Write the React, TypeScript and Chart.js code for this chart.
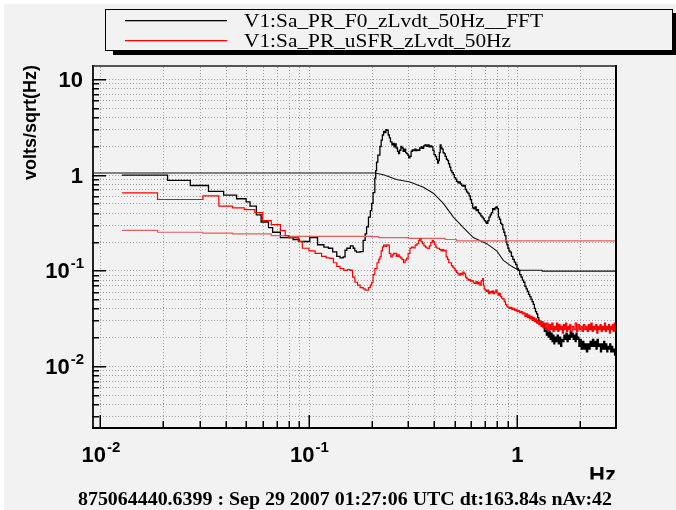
import React, { useEffect, useRef } from "react";
import { Chart, registerables } from "chart.js";
Chart.register(...registerables);

const W = 676;
const H = 510;

// Axis ranges (Hz, volts/sqrt(Hz))
const X_MIN = 0.00912;
const X_MAX = 2.967;
const Y_MIN = 0.002244;
const Y_MAX = 14.02;

// Tick positions
const xTickValues = [0.01, 0.02, 0.03, 0.04, 0.05, 0.06, 0.07, 0.08, 0.09, 0.1, 0.2, 0.3, 0.4, 0.5, 0.6, 0.7, 0.8, 0.9, 1, 2];
const xMajorTicks = [0.01, 0.1, 1];
const xMajorLabels: [string, string][] = [["10", "-2"], ["10", "-1"], ["1", ""]];
const yTickValues = [0.003, 0.004, 0.005, 0.006, 0.007, 0.008, 0.009, 0.01, 0.02, 0.03, 0.04, 0.05, 0.06, 0.07, 0.08, 0.09, 0.1, 0.2, 0.3, 0.4, 0.5, 0.6, 0.7, 0.8, 0.9, 1, 2, 3, 4, 5, 6, 7, 8, 9, 10];
const yMajorTicks = [0.01, 0.1, 1, 10];
const yMajorLabels: [string, string][] = [["10", "-2"], ["10", "-1"], ["1", ""], ["10", ""]];

const legendLabels = ["V1:Sa_PR_F0_zLvdt_50Hz__FFT", "V1:Sa_PR_uSFR_zLvdt_50Hz"];
const yTitle = "volts/sqrt(Hz)";
const xTitle = "Hz";
const footerText = "875064440.6399 : Sep 29 2007 01:27:06 UTC dt:163.84s nAv:42";

// Series: [frequency (Hz), amplitude]
const blackFft: [number, number][] = [
  [0.0127, 0.99], [0.021, 0.87], [0.027, 0.77], [0.033, 0.67], [0.039, 0.61], [0.045, 0.56], [0.050, 0.52], [0.0522, 0.47],
  [0.056, 0.38], [0.059, 0.32], [0.064, 0.28], [0.067, 0.25], [0.073, 0.22], [0.084, 0.21], [0.090, 0.20], [0.101, 0.22],
  [0.110, 0.185], [0.118, 0.175], [0.124, 0.17], [0.130, 0.156], [0.136, 0.14], [0.141, 0.135], [0.146, 0.138], [0.149, 0.162],
  [0.152, 0.17], [0.158, 0.18], [0.163, 0.17], [0.166, 0.16], [0.169, 0.155], [0.176, 0.157], [0.182, 0.206], [0.186, 0.24],
  [0.189, 0.284], [0.193, 0.36], [0.197, 0.42], [0.200, 0.5], [0.203, 0.65], [0.207, 0.92], [0.209, 1.1], [0.211, 1.35],
  [0.214, 1.6], [0.219, 1.97], [0.222, 2.3], [0.225, 2.6], [0.228, 2.84], [0.231, 2.75], [0.234, 2.96], [0.237, 2.9],
  [0.240, 2.6], [0.243, 2.43], [0.246, 2.2], [0.250, 2.05], [0.253, 2.12], [0.256, 1.95], [0.259, 2.1], [0.262, 1.9],
  [0.266, 1.75], [0.269, 1.66], [0.272, 1.8], [0.276, 1.97], [0.279, 1.9], [0.283, 1.75], [0.287, 1.85], [0.291, 1.7],
  [0.294, 1.66], [0.298, 1.6], [0.301, 1.5], [0.305, 1.55], [0.309, 1.75], [0.313, 1.82], [0.317, 1.78], [0.322, 1.85],
  [0.326, 1.78], [0.331, 1.82], [0.336, 1.8], [0.340, 1.9], [0.345, 1.95], [0.350, 1.88], [0.355, 2.0], [0.360, 2.05],
  [0.366, 1.98], [0.372, 2.05], [0.377, 1.95], [0.383, 2.0], [0.388, 1.95], [0.393, 1.8], [0.398, 1.62], [0.404, 1.55],
  [0.409, 1.45], [0.414, 1.32], [0.418, 1.4], [0.422, 1.7], [0.426, 2.05], [0.430, 1.9], [0.435, 1.85], [0.440, 1.7],
  [0.445, 1.66], [0.450, 1.55], [0.456, 1.45], [0.462, 1.4], [0.467, 1.3], [0.473, 1.2], [0.479, 1.1], [0.485, 1.05],
  [0.492, 1.0], [0.498, 0.93], [0.505, 0.9], [0.511, 0.85], [0.518, 0.82], [0.525, 0.84], [0.532, 0.8], [0.540, 0.77],
  [0.547, 0.76], [0.555, 0.77], [0.562, 0.7], [0.570, 0.66], [0.578, 0.64], [0.586, 0.6], [0.594, 0.55], [0.602, 0.5],
  [0.610, 0.45], [0.618, 0.44], [0.626, 0.46], [0.634, 0.42], [0.642, 0.43], [0.650, 0.4], [0.658, 0.39], [0.667, 0.37],
  [0.676, 0.36], [0.685, 0.345], [0.694, 0.33], [0.703, 0.32], [0.712, 0.31], [0.721, 0.33], [0.730, 0.36], [0.740, 0.38],
  [0.750, 0.4], [0.760, 0.44], [0.770, 0.43], [0.780, 0.45], [0.790, 0.46], [0.800, 0.44], [0.810, 0.36], [0.820, 0.34],
  [0.830, 0.31], [0.840, 0.3], [0.850, 0.27], [0.860, 0.25], [0.870, 0.23], [0.880, 0.2], [0.890, 0.185], [0.900, 0.17],
  [0.910, 0.16], [0.920, 0.155], [0.935, 0.14], [0.950, 0.13], [0.965, 0.122], [0.980, 0.115], [0.995, 0.105], [1.01, 0.1],
  [1.025, 0.09], [1.04, 0.085], [1.055, 0.079], [1.07, 0.075], [1.085, 0.068], [1.10, 0.064], [1.115, 0.06], [1.13, 0.056],
  [1.145, 0.053], [1.16, 0.05], [1.175, 0.047], [1.19, 0.044], [1.205, 0.04], [1.22, 0.037], [1.235, 0.035], [1.25, 0.032],
  [1.265, 0.03], [1.28, 0.029], [1.295, 0.027], [1.31, 0.026], [1.33, 0.027], [1.345, 0.023], [1.36, 0.025], [1.375, 0.021],
  [1.39, 0.024], [1.405, 0.02], [1.42, 0.023], [1.435, 0.019], [1.45, 0.022], [1.465, 0.018], [1.48, 0.021], [1.495, 0.017],
  [1.51, 0.02], [1.53, 0.018], [1.55, 0.021], [1.57, 0.017], [1.59, 0.02], [1.61, 0.016], [1.63, 0.019], [1.65, 0.018],
  [1.67, 0.021], [1.69, 0.019], [1.71, 0.022], [1.73, 0.018], [1.75, 0.021], [1.77, 0.019], [1.79, 0.023], [1.81, 0.02],
  [1.83, 0.022], [1.85, 0.019], [1.87, 0.021], [1.89, 0.018], [1.91, 0.022], [1.93, 0.019], [1.95, 0.02], [1.97, 0.016],
  [1.99, 0.019], [2.02, 0.015], [2.05, 0.018], [2.08, 0.015], [2.11, 0.017], [2.14, 0.014], [2.17, 0.017], [2.2, 0.015],
  [2.23, 0.018], [2.26, 0.016], [2.29, 0.019], [2.32, 0.016], [2.35, 0.018], [2.38, 0.015], [2.41, 0.019], [2.44, 0.016],
  [2.47, 0.017], [2.5, 0.014], [2.53, 0.017], [2.56, 0.015], [2.59, 0.018], [2.62, 0.015], [2.65, 0.017], [2.68, 0.014],
  [2.71, 0.016], [2.74, 0.015], [2.77, 0.017], [2.8, 0.014], [2.83, 0.016], [2.86, 0.014], [2.89, 0.015], [2.92, 0.013],
  [2.95, 0.015], [3.0, 0.014],
];

const redFft: [number, number][] = [
  [0.0127, 0.645], [0.0188, 0.55], [0.031, 0.6], [0.037, 0.47], [0.043, 0.45], [0.049, 0.43], [0.055, 0.4], [0.060, 0.33],
  [0.066, 0.3], [0.073, 0.26], [0.077, 0.23], [0.080, 0.22], [0.089, 0.2], [0.093, 0.17], [0.100, 0.16], [0.107, 0.15],
  [0.115, 0.14], [0.121, 0.135], [0.126, 0.133], [0.131, 0.12], [0.136, 0.11], [0.141, 0.104], [0.147, 0.1], [0.153, 0.102],
  [0.158, 0.1], [0.162, 0.085], [0.166, 0.075], [0.171, 0.07], [0.176, 0.066], [0.182, 0.064], [0.186, 0.062], [0.189, 0.062],
  [0.193, 0.066], [0.197, 0.07], [0.200, 0.075], [0.203, 0.09], [0.207, 0.104], [0.212, 0.12], [0.216, 0.13], [0.219, 0.138],
  [0.222, 0.16], [0.225, 0.175], [0.228, 0.183], [0.232, 0.178], [0.236, 0.185], [0.240, 0.183], [0.243, 0.15], [0.247, 0.138],
  [0.251, 0.145], [0.255, 0.15], [0.259, 0.15], [0.263, 0.14], [0.267, 0.145], [0.271, 0.138], [0.275, 0.135], [0.279, 0.13],
  [0.284, 0.12], [0.289, 0.128], [0.294, 0.133], [0.299, 0.15], [0.305, 0.17], [0.31, 0.175], [0.316, 0.172], [0.323, 0.183],
  [0.33, 0.19], [0.336, 0.205], [0.34, 0.215], [0.345, 0.2], [0.35, 0.19], [0.356, 0.18], [0.362, 0.175], [0.368, 0.17],
  [0.373, 0.168], [0.378, 0.18], [0.384, 0.195], [0.39, 0.206], [0.395, 0.2], [0.40, 0.185], [0.406, 0.175], [0.411, 0.17],
  [0.417, 0.17], [0.423, 0.165], [0.43, 0.16], [0.436, 0.165], [0.442, 0.16], [0.449, 0.162], [0.455, 0.138], [0.462, 0.13],
  [0.468, 0.12], [0.475, 0.12], [0.482, 0.112], [0.489, 0.108], [0.496, 0.104], [0.502, 0.1], [0.51, 0.095], [0.517, 0.092],
  [0.524, 0.089], [0.531, 0.093], [0.539, 0.09], [0.547, 0.096], [0.555, 0.092], [0.563, 0.085], [0.571, 0.082], [0.579, 0.079],
  [0.587, 0.08], [0.596, 0.077], [0.605, 0.078], [0.614, 0.074], [0.623, 0.073], [0.632, 0.076], [0.641, 0.072], [0.65, 0.075],
  [0.66, 0.07], [0.67, 0.078], [0.68, 0.082], [0.686, 0.07], [0.692, 0.064], [0.699, 0.062], [0.708, 0.06], [0.717, 0.062],
  [0.727, 0.057], [0.737, 0.06], [0.747, 0.058], [0.757, 0.061], [0.767, 0.057], [0.777, 0.059], [0.787, 0.062], [0.797, 0.058],
  [0.807, 0.055], [0.818, 0.057], [0.829, 0.053], [0.84, 0.051], [0.852, 0.05], [0.864, 0.047], [0.876, 0.044], [0.888, 0.042],
  [0.9, 0.041], [0.913, 0.04], [0.926, 0.041], [0.939, 0.039], [0.952, 0.04], [0.966, 0.038], [0.98, 0.039], [0.994, 0.037],
  [1.01, 0.038], [1.025, 0.036], [1.04, 0.037], [1.055, 0.035], [1.07, 0.036], [1.085, 0.033], [1.1, 0.035], [1.115, 0.032],
  [1.13, 0.034], [1.145, 0.031], [1.16, 0.033], [1.175, 0.03], [1.19, 0.032], [1.205, 0.029], [1.22, 0.031], [1.235, 0.028],
  [1.25, 0.03], [1.265, 0.027], [1.28, 0.029], [1.295, 0.026], [1.31, 0.029], [1.325, 0.025], [1.34, 0.028], [1.36, 0.024],
  [1.38, 0.028], [1.4, 0.023], [1.42, 0.027], [1.44, 0.024], [1.46, 0.028], [1.48, 0.023], [1.5, 0.026], [1.52, 0.024],
  [1.54, 0.028], [1.56, 0.023], [1.58, 0.027], [1.6, 0.024], [1.62, 0.026], [1.64, 0.022], [1.66, 0.027], [1.68, 0.024],
  [1.7, 0.028], [1.72, 0.023], [1.74, 0.026], [1.76, 0.024], [1.78, 0.027], [1.8, 0.023], [1.83, 0.026], [1.86, 0.024],
  [1.89, 0.028], [1.92, 0.023], [1.95, 0.027], [1.98, 0.024], [2.01, 0.026], [2.04, 0.023], [2.07, 0.027], [2.1, 0.024],
  [2.13, 0.026], [2.16, 0.023], [2.19, 0.027], [2.22, 0.024], [2.25, 0.028], [2.28, 0.023], [2.31, 0.026], [2.34, 0.024],
  [2.37, 0.027], [2.4, 0.022], [2.43, 0.026], [2.46, 0.024], [2.49, 0.027], [2.52, 0.023], [2.55, 0.026], [2.58, 0.024],
  [2.61, 0.028], [2.64, 0.023], [2.67, 0.026], [2.7, 0.024], [2.73, 0.027], [2.76, 0.022], [2.79, 0.026], [2.82, 0.024],
  [2.85, 0.027], [2.88, 0.023], [2.91, 0.028], [2.94, 0.024], [2.97, 0.026], [3.0, 0.025],
];

const blackRms: [number, number][] = [
  [0.009, 1.04], [0.207, 1.04], [0.228, 1.0], [0.263, 0.89], [0.305, 0.84], [0.354, 0.74], [0.395, 0.64], [0.441, 0.5],
  [0.493, 0.36], [0.55, 0.28], [0.614, 0.22], [0.712, 0.19], [0.795, 0.16], [0.855, 0.127], [0.938, 0.11], [1.01, 0.1],
  [1.31, 0.1], [1.315, 0.098], [3.0, 0.098],
];

const redRms: [number, number][] = [
  [0.0127, 0.262], [0.0188, 0.25], [0.031, 0.245], [0.043, 0.24], [0.066, 0.23], [0.08, 0.226], [0.2, 0.225], [0.216, 0.22],
  [0.30, 0.216], [0.449, 0.21], [0.51, 0.203], [3.0, 0.2],
];

const BG = "#f2f2f2";
const SANS = '"Liberation Sans", Arial, sans-serif';
const SERIF = '"Liberation Serif", "Times New Roman", serif';

function toXY(arr: [number, number][]) {
  return arr.map(([x, y]) => ({ x, y }));
}

function drawFitted(ctx: CanvasRenderingContext2D, text: string, x: number, y: number, width: number | null, sx: number) {
  ctx.save();
  ctx.translate(x, y);
  ctx.scale(sx, 1);
  ctx.fillText(text, 0, 0);
  ctx.restore();
}

function drawPow(ctx: CanvasRenderingContext2D, base: string, exp: string, x: number, y: number, align: "center" | "right") {
  const big = `bold 22px ${SANS}`;
  const small = `bold 15px ${SANS}`;
  ctx.font = big;
  const wb = ctx.measureText(base).width;
  ctx.font = small;
  const we = exp ? ctx.measureText(exp).width : 0;
  const total = wb + we;
  const x0 = align === "center" ? x - total / 2 : x - total;
  ctx.textAlign = "left";
  ctx.textBaseline = "alphabetic";
  ctx.font = big;
  ctx.fillText(base, x0, y);
  if (exp) {
    ctx.font = small;
    ctx.fillText(exp, x0 + wb + 1, y - 10);
  }
}

const rootPlugin = {
  id: "rootStyle",
  beforeDraw(chart: any) {
    const ctx: CanvasRenderingContext2D = chart.ctx;
    const { left, right, top, bottom } = chart.chartArea;
    const xs = chart.scales.x;
    const ys = chart.scales.y;
    ctx.save();
    ctx.fillStyle = BG;
    ctx.fillRect(0, 0, W, H);
    ctx.fillStyle = "#ffffff";
    ctx.fillRect(0, 0, W, 4);
    ctx.fillRect(0, 0, 4, H);
    // dotted grid
    ctx.fillStyle = "#a0a0a0";
    for (const v of xTickValues) {
      const px = Math.round(xs.getPixelForValue(v));
      for (let y = Math.round(top) + 2; y < bottom - 1; y += 3) ctx.fillRect(px, y, 1, 1);
    }
    for (const v of yTickValues) {
      const py = Math.round(ys.getPixelForValue(v));
      for (let x = Math.round(left) + 2; x < right - 1; x += 3) ctx.fillRect(x, py, 1, 1);
    }
    ctx.restore();
  },
  afterDraw(chart: any) {
    const ctx: CanvasRenderingContext2D = chart.ctx;
    const { left, right, top, bottom } = chart.chartArea;
    const xs = chart.scales.x;
    const ys = chart.scales.y;
    ctx.save();
    // frame
    const L = Math.round(left), R = Math.round(right), T = Math.round(top), B = Math.round(bottom);
    ctx.fillStyle = "#555555";
    ctx.fillRect(L, T, R - L, 2);
    ctx.fillStyle = "#222222";
    ctx.fillRect(L, T, 2, B - T);
    ctx.fillStyle = "#000000";
    ctx.fillRect(R - 1, T, 2, B - T + 1);
    ctx.fillRect(L, B - 1, R - L + 1, 2);
    // ticks (inward)
    for (const v of yTickValues) {
      const py = Math.round(ys.getPixelForValue(v));
      const len = yMajorTicks.includes(v) ? 14 : 7;
      ctx.fillRect(L, py, len, 1.5);
    }
    for (const v of xTickValues) {
      const px = Math.round(xs.getPixelForValue(v));
      const len = xMajorTicks.includes(v) ? 13 : 7;
      ctx.fillRect(px - 0.5, B - len, 1.5, len);
    }
    // tick labels
    ctx.fillStyle = "#000";
    xMajorTicks.forEach((v, i) => {
      const px = xs.getPixelForValue(v);
      drawPow(ctx, xMajorLabels[i][0], xMajorLabels[i][1], px, 462, "center");
    });
    yMajorTicks.forEach((v, i) => {
      const py = ys.getPixelForValue(v);
      drawPow(ctx, yMajorLabels[i][0], yMajorLabels[i][1], 83, py + 8, "right");
    });
    // axis titles
    ctx.save();
    ctx.beginPath();
    ctx.rect(0, 0, W, 479.5);
    ctx.clip();
    ctx.font = `bold 22px ${SANS}`;
    ctx.textAlign = "right";
    ctx.fillText(xTitle, R, 482);
    ctx.restore();
    ctx.save();
    ctx.translate(36, T);
    ctx.rotate(-Math.PI / 2);
    ctx.font = `bold 18px ${SANS}`;
    ctx.textAlign = "right";
    ctx.fillText(yTitle, 0, 0);
    ctx.restore();
    // footer
    ctx.font = `bold 18px ${SERIF}`;
    ctx.textAlign = "left";
    const fw = ctx.measureText(footerText).width;
    const fsx = 534 / fw;
    drawFitted(ctx, footerText, 78, 505, null, fsx);
    // legend
    ctx.fillStyle = "#000";
    ctx.fillRect(113, 51, 564, 4);
    ctx.fillRect(673, 13, 4, 42);
    ctx.fillStyle = BG;
    ctx.fillRect(105, 9, 568, 42);
    ctx.strokeStyle = "#000";
    ctx.lineWidth = 1;
    ctx.strokeRect(105.5, 9.5, 567, 41);
    ctx.fillStyle = "#000";
    ctx.fillRect(125, 20, 102, 1.3);
    ctx.fillStyle = "#ff0000";
    ctx.fillRect(125, 40, 102, 1.3);
    ctx.fillStyle = "#000";
    ctx.font = `18px ${SERIF}`;
    const lw = ctx.measureText(legendLabels[0]).width;
    const lsx = 299 / lw;
    drawFitted(ctx, legendLabels[0], 244, 27, null, lsx);
    drawFitted(ctx, legendLabels[1], 244, 47, null, lsx);
    ctx.restore();
  },
};

export default function App() {
  const ref = useRef<HTMLCanvasElement | null>(null);
  useEffect(() => {
    if (!ref.current) return;
    const chart = new Chart(ref.current, {
      type: "line",
      data: {
        datasets: [
          { label: legendLabels[1], data: toXY(redFft), borderColor: "#ff0000", borderWidth: 1.2, stepped: true, pointRadius: 0, fill: false },
          { label: "red rms", data: toXY(redRms), borderColor: "#e06060", borderWidth: 1.2, stepped: true, pointRadius: 0, fill: false },
          { label: legendLabels[0], data: toXY(blackFft), borderColor: "#000000", borderWidth: 1.3, stepped: true, pointRadius: 0, fill: false },
          { label: "black rms", data: toXY(blackRms), borderColor: "#111111", borderWidth: 1.1, pointRadius: 0, fill: false },
        ],
      },
      options: {
        animation: false,
        responsive: false,
        devicePixelRatio: 1,
        layout: { padding: { left: 0, top: 65, right: 60, bottom: 0 } },
        plugins: { legend: { display: false }, tooltip: { enabled: false }, title: { display: false } },
        elements: { point: { radius: 0 }, line: { tension: 0 } },
        scales: {
          x: {
            type: "logarithmic",
            min: X_MIN,
            max: X_MAX,
            grid: { display: false },
            border: { display: false },
            ticks: { display: false },
            afterBuildTicks: (s: any) => { s.ticks = xTickValues.map((v) => ({ value: v })); },
            afterFit: (s: any) => { s.height = H - 428; },
          },
          y: {
            type: "logarithmic",
            min: Y_MIN,
            max: Y_MAX,
            grid: { display: false },
            border: { display: false },
            ticks: { display: false },
            afterBuildTicks: (s: any) => { s.ticks = yTickValues.map((v) => ({ value: v })); },
            afterFit: (s: any) => { s.width = 92; },
          },
        },
      } as any,
      plugins: [rootPlugin],
    });
    return () => chart.destroy();
  }, []);
  return (
    <div style={{ position: "fixed", left: 0, top: 0, width: W, height: H }}>
      <canvas ref={ref} width={W} height={H} style={{ width: W, height: H, display: "block" }} />
    </div>
  );
}
